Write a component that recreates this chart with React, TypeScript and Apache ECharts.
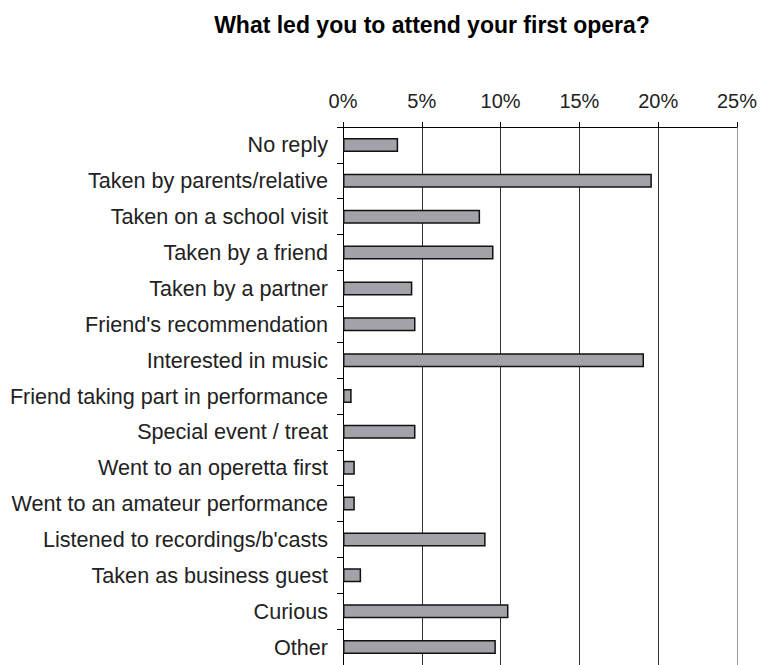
import React, { useEffect, useRef } from "react";
import * as echarts from "echarts";

const titleText = "What led you to attend your first opera?";

const categories = [
  "No reply",
  "Taken by parents/relative",
  "Taken on a school visit",
  "Taken by a friend",
  "Taken by a partner",
  "Friend's recommendation",
  "Interested in music",
  "Friend taking part in performance",
  "Special event / treat",
  "Went to an operetta first",
  "Went to an amateur performance",
  "Listened to recordings/b'casts",
  "Taken as business guest",
  "Curious",
  "Other",
];

const values = [3.5, 19.6, 8.7, 9.55, 4.4, 4.6, 19.1, 0.55, 4.6, 0.75, 0.75, 9.05, 1.15, 10.5, 9.7];

const xTicks = { min: 0, max: 25, interval: 5 };

const FONT = "'Liberation Sans', Arial, sans-serif";

export default function App() {
  const ref = useRef<HTMLDivElement>(null);
  useEffect(() => {
    if (!ref.current) return;
    const chart = echarts.init(ref.current, null, { renderer: "svg" });
    chart.setOption({
      animation: false,
      backgroundColor: "#ffffff",
      graphic: [
        {
          type: "text",
          x: 432,
          y: 13,
          style: {
            text: titleText,
            fill: "#000",
            font: `bold 23px ${FONT}`,
            textAlign: "center",
            textVerticalAlign: "top",
          },
        },
      ],
      grid: { left: 343, top: 127, width: 396, height: 540, containLabel: false },
      xAxis: {
        type: "value",
        position: "top",
        min: xTicks.min,
        max: xTicks.max,
        interval: xTicks.interval,
        axisLine: { show: true, lineStyle: { color: "#000", width: 1 } },
        axisTick: { show: true, length: 5, lineStyle: { color: "#000" } },
        axisLabel: {
          formatter: "{value}%",
          fontSize: 20,
          fontFamily: FONT,
          color: "#222",
          margin: 16,
        },
        splitLine: {
          show: true,
          lineStyle: { color: ["#333", "#333", "#333", "#333", "#333", "#999"], width: 1 },
        },
      },
      yAxis: {
        type: "category",
        inverse: true,
        data: categories,
        axisLine: { show: true, lineStyle: { color: "#000", width: 1 } },
        axisTick: { show: true, length: 6, alignWithLabel: false, lineStyle: { color: "#000" } },
        axisLabel: {
          fontSize: 21.6,
          fontFamily: FONT,
          color: "#222",
          margin: 15,
        },
        splitLine: { show: false },
      },
      series: [
        {
          type: "bar",
          data: values,
          barWidth: 14,
          itemStyle: { color: "#a3a2a8", borderColor: "#111", borderWidth: 1.5 },
        },
      ],
    });
    return () => chart.dispose();
  }, []);
  return (
    <div
      ref={ref}
      style={{ position: "fixed", left: 0, top: 0, width: 760, height: 665 }}
    />
  );
}
